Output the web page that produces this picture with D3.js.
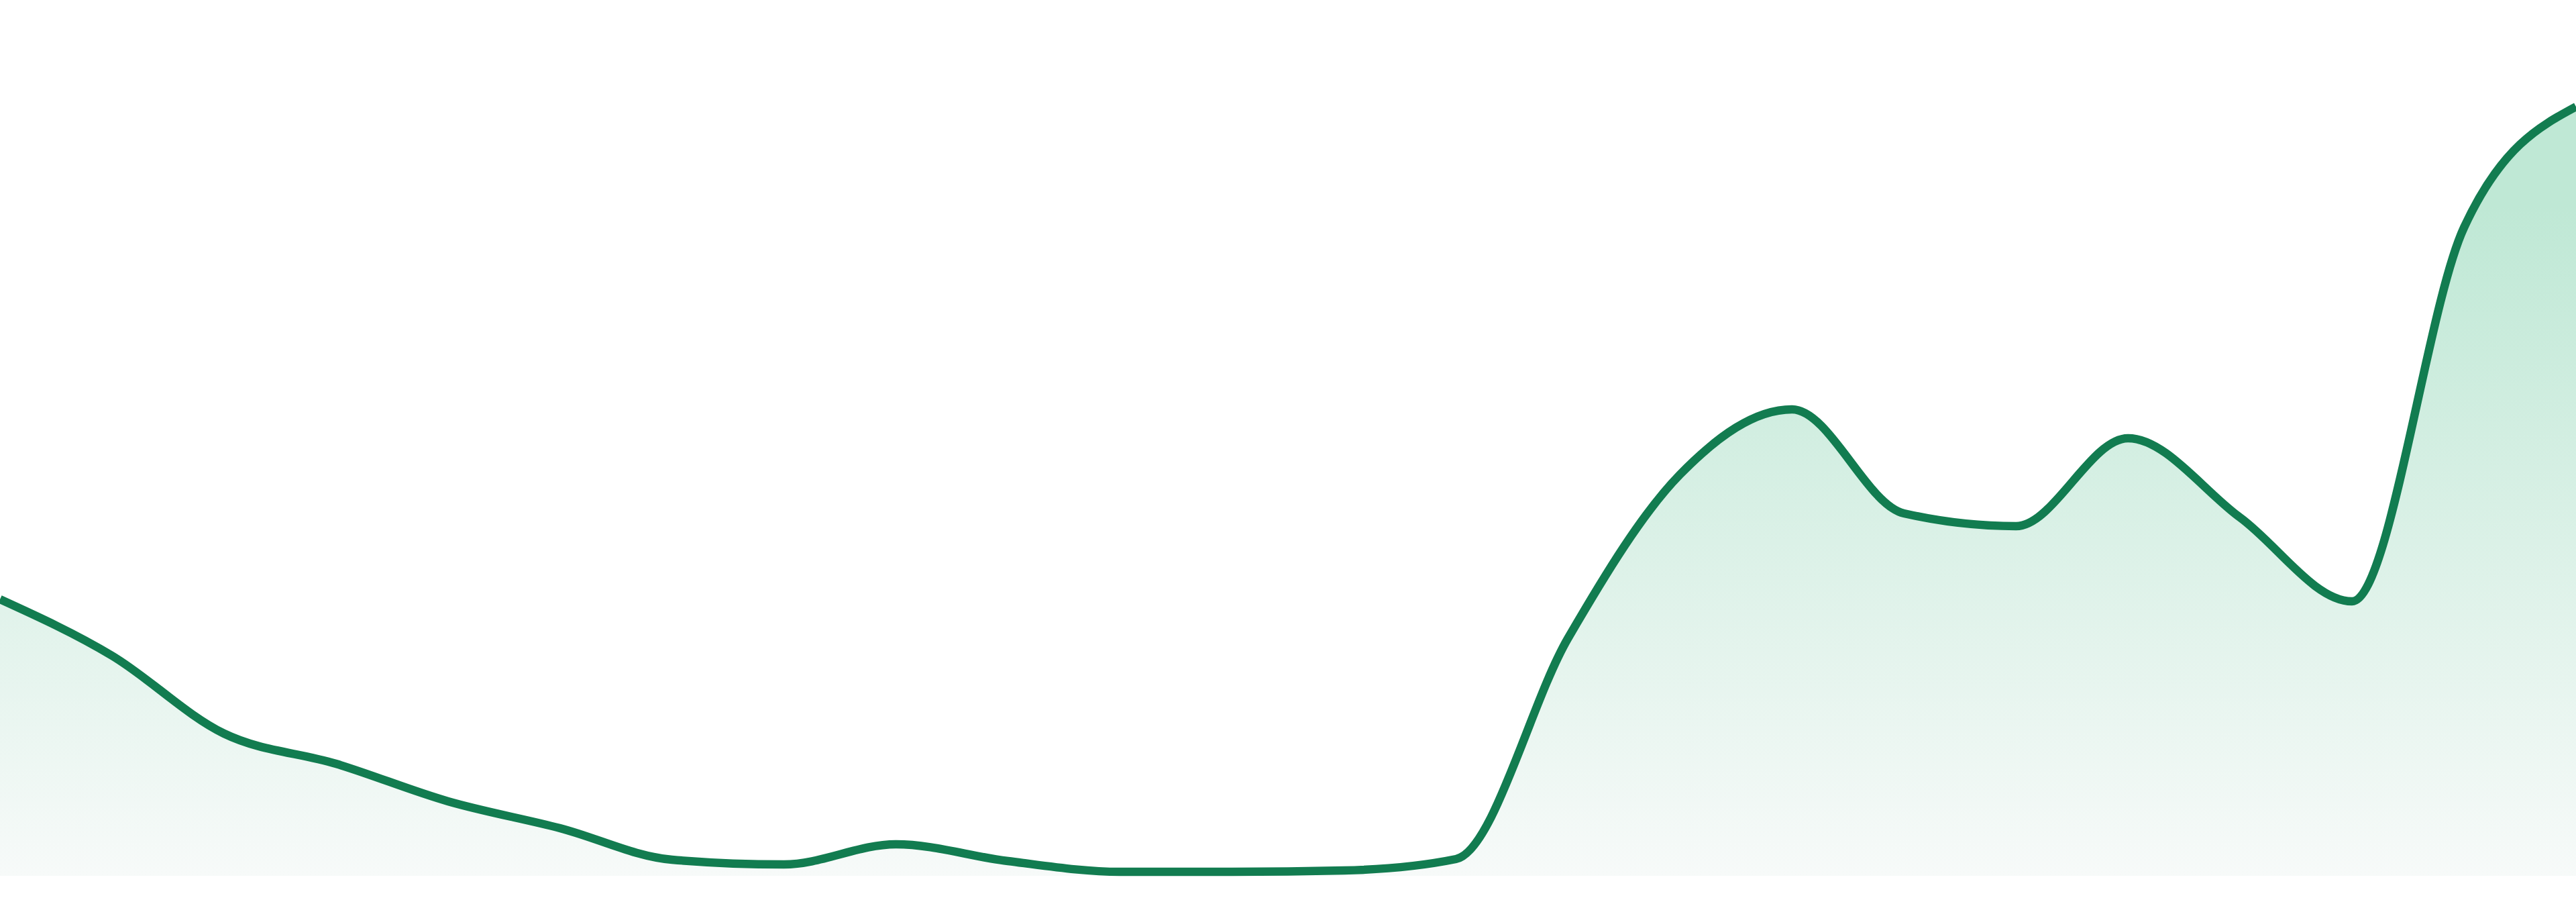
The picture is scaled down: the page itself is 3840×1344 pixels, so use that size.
<!DOCTYPE html>
<html>
<head>
<meta charset="utf-8">
<script src="https://cdn.jsdelivr.net/npm/d3@7"></script>
<style>
  html, body { margin: 0; padding: 0; background: #fff; }
  svg { display: block; }
</style>
</head>
<body>
<div id="chart"></div>
<script>
// one point per period
const periods = d3.range(24)
const values = [412, 328, 212, 167, 111, 71, 24, 17, 47, 22, 6, 6,
  8, 25, 354, 598, 695, 540, 521, 652, 534, 409, 966, 1146]

const width = 3840
const height = 1344
const baseY = 1305
const topY = 159

const svg = d3.select('#chart').append('svg')
  .attr('width', width)
  .attr('height', height)

let x = d3.scaleLinear()
  .domain([0, periods.length - 1])
  .range([0, width])

let y = d3.scaleLinear()
  .domain([0, d3.max(values)])
  .range([baseY, topY])

const grad = svg.append('defs').append('linearGradient')
  .attr('id', 'fillGrad')
  .attr('gradientUnits', 'userSpaceOnUse')
  .attr('x1', 0).attr('x2', 0)
  .attr('y1', y(d3.max(values)) + 150).attr('y2', baseY)
grad.append('stop').attr('offset', '0%').attr('stop-color', '#bfe8d5')
grad.append('stop').attr('offset', '100%').attr('stop-color', '#f7faf9')

let area = d3.area()
  .x((d, i) => x(periods[i]))
  .y0(y(0))
  .y1(d => y(d))
  .curve(d3.curveMonotoneX)

let line = d3.line()
  .x((d, i) => x(periods[i]))
  .y(d => y(d))
  .curve(d3.curveMonotoneX)

svg.append('path')
  .datum(values)
  .attr('d', area)
  .attr('fill', 'url(#fillGrad)')

svg.append('path')
  .datum(values)
  .attr('d', line)
  .attr('fill', 'none')
  .attr('stroke', '#127c50')
  .attr('stroke-width', 12.5)
  .attr('stroke-linejoin', 'round')
</script>
</body>
</html>
